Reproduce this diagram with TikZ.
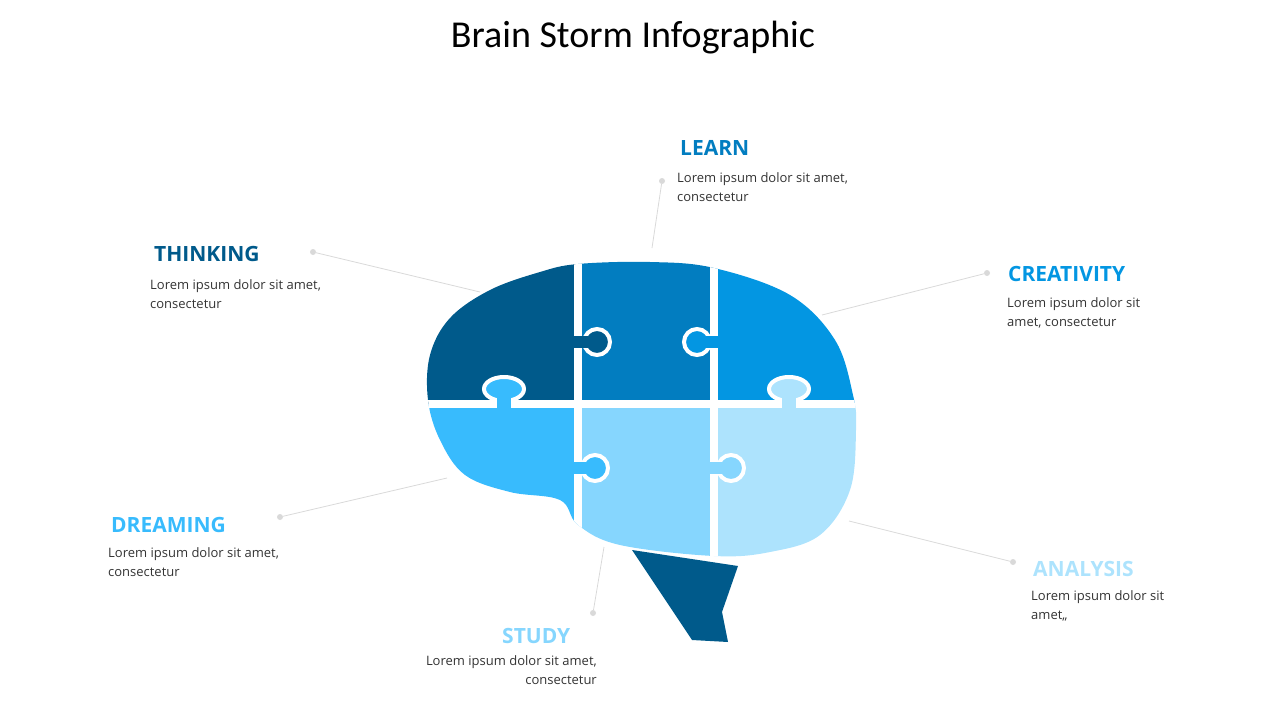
\documentclass[tikz,border=0pt]{standalone}
\usepackage{fontspec}
\setmainfont{Open Sans}
\newfontfamily\titlefont{Carlito}
\definecolor{cTL}{HTML}{005A8B}
\definecolor{cTM}{HTML}{027DC0}
\definecolor{cTR}{HTML}{0396E2}
\definecolor{cBL}{HTML}{38BBFD}
\definecolor{cBM}{HTML}{86D6FE}
\definecolor{cBR}{HTML}{ADE3FD}
\definecolor{lineGray}{HTML}{D9D9D9}
\definecolor{bodyText}{HTML}{333333}
\tikzset{
  head/.style={anchor=west, font=\fontsize{21}{24}\selectfont\bfseries, inner sep=0},
  body/.style={anchor=north west, align=left, font=\fontsize{13}{19}\selectfont, text=bodyText, inner sep=0},
  lead/.style={draw=lineGray, line width=0.8},
  dot/.style={circle, fill=lineGray, inner sep=0, minimum size=6},
  knob/.style={draw=white, line width=4},
}
\newcommand{\brainpath}{plot[smooth cycle, tension=0.6] coordinates {(578,264) (540,272) (490,290) (450,318) (430,355) (428,400) (440,440) (465,475) (510,492) (560,500) (578,525) (620,545) (714,556) (770,552) (820,535) (850,490) (856,430) (853,395) (835,340) (790,295) (714,268) (650,262)}}
\begin{document}
\begin{tikzpicture}[x=1pt, y=-1pt]
\useasboundingbox (0,0) rectangle (1280,720);

% Title
\node (title) at (633,38) {\titlefont\fontsize{38}{42}\selectfont Brain Storm Infographic};

% Stem
\fill[cTL] (632,550) -- (738,566) -- (722,612) -- (728,642) -- (692,640) -- cycle;

% Brain pieces
\begin{scope}
  \clip \brainpath;
  \fill[cTL] (400,240) rectangle (578,404);
  \fill[cTM] (578,240) rectangle (714,404);
  \fill[cTR] (714,240) rectangle (880,404);
  \fill[cBL] (400,404) rectangle (578,580);
  \fill[cBM] (578,404) rectangle (714,580);
  \fill[cBR] (714,404) rectangle (880,580);
  \draw[white, line width=8] (578,240) -- (578,580);
  \draw[white, line width=8] (714,240) -- (714,580);
  \draw[white, line width=8] (400,404) -- (880,404);
  % Knobs
  \draw[knob, fill=cTL] (597,342) circle (13);
  \fill[cTL] (572,336) rectangle (588,348);
  \draw[knob, fill=cTR] (697,342) circle (13);
  \fill[cTR] (706,336) rectangle (720,348);
  \draw[knob, fill=cBL] (504,389) ellipse (20 and 12);
  \fill[cBL] (497,396) rectangle (511,410);
  \draw[knob, fill=cBR] (789,389) ellipse (20 and 12);
  \fill[cBR] (782,396) rectangle (796,410);
  \draw[knob, fill=cBL] (595,468) circle (13);
  \fill[cBL] (572,462) rectangle (586,474);
  \draw[knob, fill=cBM] (731,468) circle (13);
  \fill[cBM] (708,462) rectangle (722,474);
\end{scope}

% Leaders
\node[dot] (dThink) at (313,252) {};
\coordinate (eThink) at (480,292);
\draw[lead] (dThink) -- (eThink);
\node[dot] (dLearn) at (662,181) {};
\coordinate (eLearn) at (652,248);
\draw[lead] (dLearn) -- (eLearn);
\node[dot] (dCreat) at (987,273) {};
\coordinate (eCreat) at (822,315);
\draw[lead] (dCreat) -- (eCreat);
\node[dot] (dDream) at (280,517) {};
\coordinate (eDream) at (447,478);
\draw[lead] (dDream) -- (eDream);
\node[dot] (dStudy) at (593,613) {};
\coordinate (eStudy) at (604,547);
\draw[lead] (dStudy) -- (eStudy);
\node[dot] (dAnaly) at (1013,562) {};
\coordinate (eAnaly) at (849,521);
\draw[lead] (dAnaly) -- (eAnaly);

% Labels
\node[head, text=cTL] (hThink) at (154,254) {THINKING};
\node[body] (bThink) at (150,279) {Lorem ipsum dolor sit amet,\\consectetur};
\node[head, text=cTM] (hLearn) at (680,148) {LEARN};
\node[body] (bLearn) at (677,172) {Lorem ipsum dolor sit amet,\\consectetur};
\node[head, text=cTR] (hCreat) at (1008,274) {CREATIVITY};
\node[body] (bCreat) at (1007,297) {Lorem ipsum dolor sit\\amet, consectetur};
\node[head, text=cBL] (hDream) at (111,525) {DREAMING};
\node[body] (bDream) at (108,547) {Lorem ipsum dolor sit amet,\\consectetur};
\node[head, text=cBM] (hStudy) at (502,636) {STUDY};
\node[body, anchor=north east, align=right] (bStudy) at (597,655) {Lorem ipsum dolor sit amet,\\consectetur};
\node[head, text=cBR] (hAnaly) at (1033,569) {ANALYSIS};
\node[body] (bAnaly) at (1031,590) {Lorem ipsum dolor sit\\amet,,};
\end{tikzpicture}
\end{document}
